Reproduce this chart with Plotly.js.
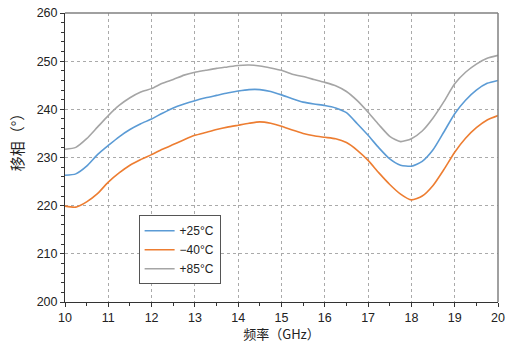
<!DOCTYPE html>
<html>
<head>
<meta charset="utf-8">
<script src="https://cdn.plot.ly/plotly-3.0.1.min.js"></script>
<style>
  html, body { margin: 0; padding: 0; background: #fff; }
  #chart { width: 507px; height: 343px; }
</style>
</head>
<body>
<div id="chart"></div>
<script>
// Frequency points (GHz)
const freq = [10, 10.25, 10.5, 10.75, 11, 11.25, 11.5, 11.75, 12, 12.25, 12.5, 12.75,
  13, 13.25, 13.5, 13.75, 14, 14.25, 14.5, 14.75, 15, 15.25, 15.5, 15.75,
  16, 16.25, 16.5, 16.75, 17, 17.25, 17.5, 17.75, 18, 18.25, 18.5, 18.75,
  19, 19.25, 19.5, 19.75, 20];

// Phase shift (degrees) at each temperature
const phase25 = [226.3, 226.6, 228.2, 230.6, 232.5, 234.3, 235.8, 237.0, 238.0, 239.2, 240.3, 241.1,
  241.8, 242.4, 242.9, 243.4, 243.8, 244.1, 244.1, 243.7, 243.0, 242.2, 241.5, 241.1,
  240.8, 240.3, 239.3, 237.0, 234.6, 232.0, 229.7, 228.4, 228.2, 229.2, 231.6, 235.3,
  239.1, 241.9, 244.0, 245.4, 246.0];
const phaseM40 = [219.9, 219.7, 220.8, 222.5, 224.9, 226.8, 228.4, 229.6, 230.6, 231.7, 232.7, 233.7,
  234.6, 235.2, 235.8, 236.3, 236.7, 237.1, 237.4, 237.1, 236.5, 235.7, 235.0, 234.5,
  234.2, 233.9, 233.1, 231.5, 229.4, 226.8, 224.4, 222.4, 221.2, 222.0, 224.2, 227.5,
  231.1, 234.0, 236.2, 237.8, 238.7];
const phase85 = [231.7, 232.1, 233.9, 236.3, 238.7, 240.8, 242.4, 243.6, 244.3, 245.4, 246.2, 247.1,
  247.7, 248.1, 248.5, 248.8, 249.1, 249.2, 249.0, 248.6, 248.1, 247.3, 246.8, 246.2,
  245.6, 244.9, 243.7, 241.8, 239.4, 236.8, 234.4, 233.3, 233.9, 235.5, 238.2, 241.6,
  245.3, 247.7, 249.4, 250.6, 251.2];

const seriesNames = ['+25\u00B0C', '\u221240\u00B0C', '+85\u00B0C'];
const seriesColors = ['#5b9bd5', '#ed7d31', '#a5a5a5'];
const seriesData = [phase25, phaseM40, phase85];

const traces = seriesData.map((ys, i) => ({
  x: freq,
  y: ys,
  type: 'scatter',
  mode: 'lines',
  name: seriesNames[i],
  line: { color: seriesColors[i], width: 1.6, shape: 'spline', smoothing: 0.6 }
}));

const tickFont = { family: 'Liberation Sans, Arial, sans-serif', size: 12.5, color: '#222' };
const cjkFont = 'Noto Sans CJK SC, sans-serif';

const layout = {
  width: 507,
  height: 343,
  margin: { l: 65.3, r: 8.5, t: 12.5, b: 41.2 },
  paper_bgcolor: '#ffffff',
  plot_bgcolor: '#ffffff',
  showlegend: true,
  legend: {
    x: 0.17, y: 0.30, xanchor: 'left', yanchor: 'top',
    bgcolor: '#ffffff',
    bordercolor: '#555555',
    borderwidth: 1,
    font: { family: 'Liberation Sans, Arial, sans-serif', size: 12, color: '#222' },
    tracegroupgap: 0,
    itemwidth: 30
  },
  xaxis: {
    range: [10, 20],
    tickmode: 'linear', tick0: 10, dtick: 1,
    showgrid: true, gridcolor: '#aaaaaa', griddash: '3px,3px', gridwidth: 1,
    zeroline: false,
    showline: true, linecolor: '#333333', linewidth: 1,
    ticks: 'outside', ticklen: 4, tickcolor: '#333333',
    minor: { dtick: 0.5, ticks: 'outside', ticklen: 3, tickcolor: '#333333', showgrid: false },
    tickfont: tickFont,
    title: { text: '频率（GHz）', font: { family: cjkFont, size: 13, color: '#222' }, standoff: 4 }
  },
  yaxis: {
    range: [200, 260],
    tickmode: 'linear', tick0: 200, dtick: 10,
    showgrid: true, gridcolor: '#aaaaaa', griddash: '3px,3px', gridwidth: 1,
    zeroline: false,
    showline: true, linecolor: '#333333', linewidth: 1,
    ticks: 'outside', ticklen: 4, tickcolor: '#333333',
    minor: { dtick: 2, ticks: 'outside', ticklen: 3, tickcolor: '#333333', showgrid: false },
    tickfont: tickFont
  },
  annotations: [
    // y-axis title, placed slightly above the axis midpoint
    { text: '移相（°）', xref: 'paper', yref: 'paper', x: -0.112, y: 0.565,
      xanchor: 'center', yanchor: 'middle', textangle: -90, showarrow: false,
      font: { family: cjkFont, size: 15, color: '#222' } }
  ],
  shapes: [
    // top and right frame of the plot area
    { type: 'line', xref: 'paper', yref: 'paper', x0: 0, x1: 1, y0: 1, y1: 1,
      line: { color: '#808080', width: 1.5 } },
    { type: 'line', xref: 'paper', yref: 'paper', x0: 1, x1: 1, y0: 0, y1: 1,
      line: { color: '#808080', width: 1.5 } }
  ]
};

Plotly.newPlot('chart', traces, layout, { displayModeBar: false, staticPlot: true });
</script>
</body>
</html>
